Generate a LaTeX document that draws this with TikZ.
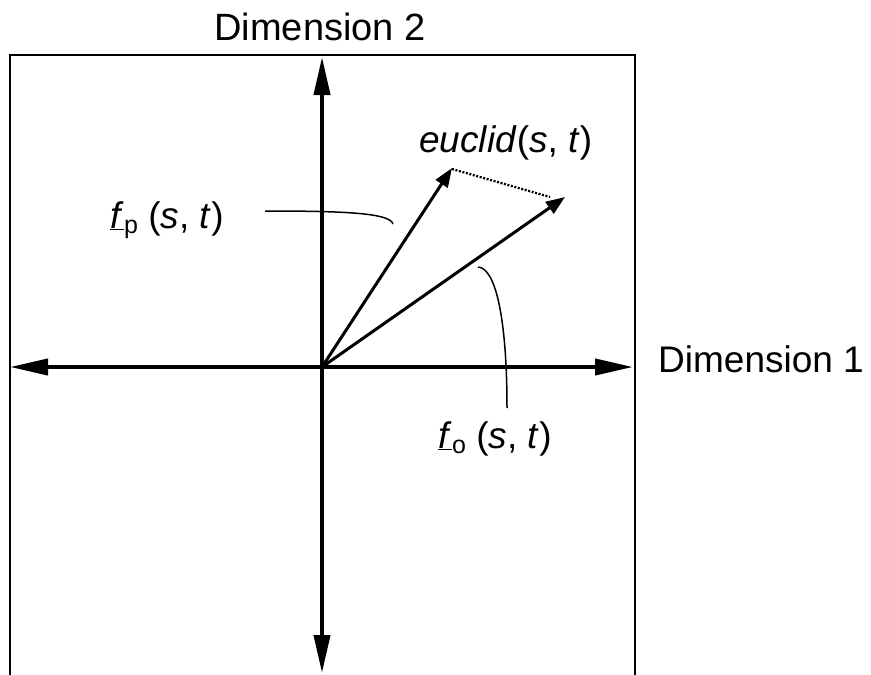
\documentclass[tikz,border=0pt]{standalone}
\usepackage{fontspec}
\setmainfont{Liberation Sans}
\usetikzlibrary{arrows.meta}
\tikzset{
  axis/.style={line width=4pt, {Triangle[length=38pt,width=16pt]}-{Triangle[length=38pt,width=16pt]}},
  vec/.style={line width=3pt, -{Triangle[length=19pt,width=14pt]}},
  frame/.style={line width=2pt},
  leader/.style={line width=1.5pt},
  gap/.style={line width=2.3pt, dash pattern=on 2pt off 1.6pt},
  lbl/.style={inner sep=0pt, anchor=base west, font=\fontsize{37}{44}\selectfont}
}
\newcommand{\fsub}[1]{\underline{\textit{f}}\kern0.5pt{\fontsize{25}{30}\selectfont\raisebox{-5pt}{#1}}}
\begin{document}
\begin{tikzpicture}[x=1pt,y=-1pt]
\useasboundingbox (0,0) rectangle (871,675);
% frame
\draw[frame] (10,675) -- (10,55) -- (635,55) -- (635,675);
% axes
\coordinate (O) at (322,367);
\coordinate (xl) at (10,367);
\coordinate (xr) at (633,367);
\coordinate (yt) at (322,57);
\coordinate (yb) at (322,673);
\draw[axis] (xl) -- (xr);
\draw[axis] (yt) -- (yb);
% vectors
\coordinate (P) at (452,168);
\coordinate (Q) at (565,197);
\draw[vec] (O) -- (P);
\draw[vec] (O) -- (Q);
\coordinate (P1) at (452,169);
\coordinate (Q1) at (550,197);
\draw[gap] (P1) -- (Q1);
% labels
\node[lbl] (dim1) at (658,372) {Dimension 1};
\node[lbl, anchor=base, font=\fontsize{38}{44}\selectfont] (dim2) at (320,40) {Dimension 2};
\node[lbl] (euclid) at (419,152) {\textit{euclid}(\textit{s}, \textit{t})};
\node[lbl] (fp) at (110,228) {\fsub{p} (\textit{s}, \textit{t})};
\node[lbl] (fo) at (438,448) {\fsub{o} (\textit{s}, \textit{t})};
% leaders
\coordinate (fpa) at (265,211);
\coordinate (fpb) at (393,224);
\draw[leader] (fpa) .. controls (345,211) and (390,213) .. (fpb);
\coordinate (foa) at (478,267);
\coordinate (fob) at (507,408);
\draw[leader] (foa) .. controls (496,268) and (507,320) .. (fob);
\end{tikzpicture}
\end{document}
